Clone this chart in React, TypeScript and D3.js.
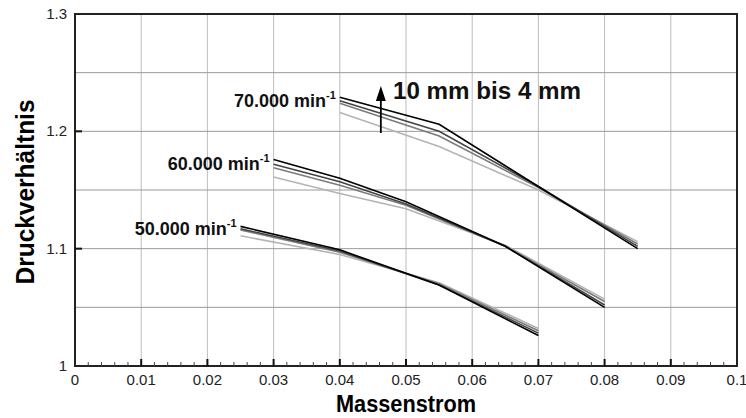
import React from "react";
import * as d3 from "d3";

// Data (Massenstrom vs Druckverhältnis), 4 lines per speed
const speeds = ["50.000", "60.000", "70.000"];
const x50 = [0.025, 0.04, 0.055, 0.07];
const x60 = [0.03, 0.04, 0.05, 0.065, 0.08];
const x70 = [0.04, 0.055, 0.07, 0.085];

// order: 4 mm (black) .. 10 mm (light gray)
const y50 = [
  [1.119, 1.099, 1.069, 1.026],
  [1.117, 1.098, 1.069, 1.028],
  [1.116, 1.097, 1.07, 1.03],
  [1.111, 1.095, 1.071, 1.032],
];
const y60 = [
  [1.176, 1.16, 1.14, 1.102, 1.05],
  [1.172, 1.157, 1.138, 1.102, 1.052],
  [1.169, 1.154, 1.137, 1.102, 1.055],
  [1.161, 1.147, 1.134, 1.103, 1.057],
];
const y70 = [
  [1.229, 1.206, 1.153, 1.1],
  [1.226, 1.2, 1.153, 1.102],
  [1.224, 1.196, 1.152, 1.104],
  [1.216, 1.187, 1.15, 1.106],
];

const xTicks = [0, 0.01, 0.02, 0.03, 0.04, 0.05, 0.06, 0.07, 0.08, 0.09, 0.1];
const yTicks = [1, 1.1, 1.2, 1.3];
const yGrid = [1.05, 1.1, 1.15, 1.2, 1.25];

const lineColors = ["#000000", "#444444", "#7c7c7c", "#b4b4b4"];

export default function App() {
  const width = 746,
    height = 418;
  const left = 75,
    right = 737,
    top = 14,
    bottom = 366;

  const x = d3.scaleLinear().domain([0, 0.1]).range([left, right]);
  const y = d3.scaleLinear().domain([1, 1.3]).range([bottom, top]);

  const groups = [
    { label: speeds[0], xs: x50, ys: y50, dy: 9 },
    { label: speeds[1], xs: x60, ys: y60, dy: 11 },
    { label: speeds[2], xs: x70, ys: y70, dy: 10 },
  ];

  const line = d3
    .line<[number, number]>()
    .x((d) => x(d[0]))
    .y((d) => y(d[1]));

  // minor ticks on x axis every 0.002
  const minorX = d3.range(0, 50).map((i) => i * 0.002).filter((v, i) => i % 5 !== 0);

  const font = "'Liberation Sans', Arial, sans-serif";
  const fmt = (d: number) => (d === 0 ? "0" : d === 0.1 ? "0.1" : d3.format(".2f")(d));
  const fmtY = (d: number) => (d === 1 ? "1" : d3.format(".1f")(d));

  // arrow position for the "10 mm bis 4 mm" annotation
  const arrowX = x(0.0462);

  return (
    <svg
      width={width}
      height={height}
      style={{ position: "absolute", left: 0, top: 0, background: "#fff" }}
      fontFamily={font}
    >
      {/* grid */}
      {xTicks.slice(1, -1).map((t) => (
        <line key={"gx" + t} x1={x(t)} x2={x(t)} y1={top} y2={bottom} stroke="#bdbdbd" strokeWidth={1} />
      ))}
      {yGrid.map((t) => (
        <line key={"gy" + t} x1={left} x2={right} y1={y(t)} y2={y(t)} stroke="#9a9a9a" strokeWidth={1} />
      ))}

      {/* lines */}
      {groups.map((g) =>
        g.ys
          .slice()
          .reverse()
          .map((ys, ri) => {
            const i = g.ys.length - 1 - ri;
            const pts = g.xs.map((xv, j) => [xv, ys[j]] as [number, number]);
            return (
              <path
                key={g.label + i}
                d={line(pts) || ""}
                fill="none"
                stroke={lineColors[i]}
                strokeWidth={1.6}
              />
            );
          })
      )}

      {/* speed labels */}
      {groups.map((g) => (
        <text
          key={"lab" + g.label}
          x={x(g.xs[0]) - 4}
          y={y(g.ys[0][0]) + g.dy}
          textAnchor="end"
          fontSize={18}
          fontWeight="bold"
          fill="#111"
        >
          {g.label} min
          <tspan fontSize={11} dy={-8}>
            -1
          </tspan>
        </text>
      ))}

      {/* arrow annotation */}
      <line x1={arrowX} x2={arrowX} y1={133} y2={98} stroke="#000" strokeWidth={1.8} />
      <path d={`M${arrowX - 5},${101} L${arrowX},${86} L${arrowX + 5},${101} Z`} fill="#000" />
      <text x={393} y={99} fontSize={23} fontWeight="bold" fill="#111" textLength={188} lengthAdjust="spacingAndGlyphs">
        10 mm bis 4 mm
      </text>

      {/* frame */}
      <rect x={left} y={top} width={right - left} height={bottom - top} fill="none" stroke="#222" strokeWidth={2} />

      {/* x ticks */}
      {xTicks.slice(1, -1).map((t) => (
        <line key={"tx" + t} x1={x(t)} x2={x(t)} y1={bottom} y2={bottom - 7} stroke="#111" strokeWidth={2} />
      ))}
      {minorX.map((t) => (
        <line key={"mx" + t} x1={x(t)} x2={x(t)} y1={bottom} y2={bottom - 4} stroke="#444" strokeWidth={1} />
      ))}
      {yTicks.slice(1, -1).map((t) => (
        <line key={"ty" + t} x1={left} x2={left + 7} y1={y(t)} y2={y(t)} stroke="#111" strokeWidth={2} />
      ))}

      {/* tick labels */}
      {xTicks.map((t) => (
        <text key={"lx" + t} x={x(t)} y={bottom + 19} textAnchor="middle" fontSize={15} fill="#222">
          {fmt(t)}
        </text>
      ))}
      {yTicks.map((t) => (
        <text
          key={"ly" + t}
          x={left - 8}
          y={y(t) + 5}
          textAnchor="end"
          fontSize={15}
          fill="#222"
        >
          {fmtY(t)}
        </text>
      ))}

      {/* axis titles */}
      <text
        x={(left + right) / 2}
        y={412}
        textAnchor="middle"
        fontSize={23}
        fontWeight="bold"
        fill="#000"
        textLength={140}
        lengthAdjust="spacingAndGlyphs"
      >
        Massenstrom
      </text>
      <text
        transform={`translate(34,${(top + bottom) / 2 + 2}) rotate(-90)`}
        textAnchor="middle"
        fontSize={25}
        fontWeight="bold"
        fill="#000"
        textLength={185}
        lengthAdjust="spacingAndGlyphs"
      >
        Druckverhältnis
      </text>
    </svg>
  );
}
